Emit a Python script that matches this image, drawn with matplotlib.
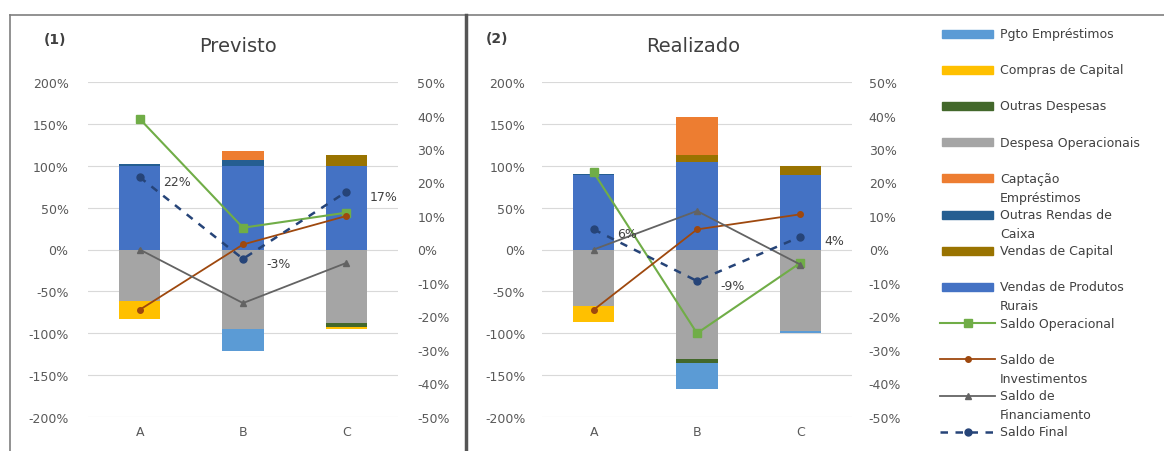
import matplotlib
matplotlib.use("Agg")

import matplotlib.pyplot as plt
import numpy as np
from matplotlib.lines import Line2D
from matplotlib.patches import Rectangle
from matplotlib.ticker import FuncFormatter

plt.rcParams["font.family"] = ["DejaVu Sans"]
plt.rcParams["axes.unicode_minus"] = False

categories = ["A", "B", "C"]

# stacked bars, % (left axis)
prev_vendas_produtos = [100, 100, 100]
prev_vendas_capital = [0, 0, 13]
prev_outras_rendas = [2, 7, 0]
prev_captacao = [0, 11, 0]
prev_despesa_oper = [-62, -95, -88]
prev_outras_despesas = [0, 0, -4]
prev_compras_capital = [-21, 0, -3]
prev_pgto_emprest = [0, -26, 0]

real_vendas_produtos = [89, 105, 89.5]
real_vendas_capital = [0, 8, 10]
real_outras_rendas = [1, 0, 0]
real_captacao = [0, 45, 0]
real_despesa_oper = [-67, -131, -97.5]
real_outras_despesas = [0, -4, 0]
real_compras_capital = [-20, 0, 0]
real_pgto_emprest = [0, -32, -2]

# balance lines, % (right axis)
prev_saldo_oper = [39, 6.5, 11]
prev_saldo_invest = [-18, 1.5, 10]
prev_saldo_financ = [0, -16, -4]
prev_saldo_final = [21.6, -2.8, 17.2]

real_saldo_oper = [23, -25, -4]
real_saldo_invest = [-18, 6, 10.5]
real_saldo_financ = [0, 11.5, -4.5]
real_saldo_final = [6, -9.4, 3.8]

# series order as in the workbook (legend shows it reversed)
bar_colors = ["#4472C4", "#997300", "#255E91", "#ED7D31",
              "#A5A5A5", "#43682B", "#FFC000", "#5B9BD5"]

line_styles = [
    dict(color="#70AD47", marker="s", ms=6, lw=1.5, ls="-"),
    dict(color="#9E480E", marker="o", ms=4, lw=1.3, ls="-"),
    dict(color="#636363", marker="^", ms=5, lw=1.3, ls="-"),
    dict(color="#264478", marker="o", ms=5, lw=1.8, ls=(0, (3, 3))),
]

W, H = 1164, 452
fig = plt.figure(figsize=(W / 100, H / 100), dpi=100)


def fx(px):
    return px / W


def fy(py):
    return 1 - py / H


def panel(left, right, bars, lines, pad_l, pad_r):
    ax = fig.add_axes([fx(left), fy(418), fx(right - left), fy(83) - fy(418)])
    x = np.arange(len(categories))
    pos = np.zeros(len(categories))
    neg = np.zeros(len(categories))
    for vals, c in zip(bars, bar_colors):
        v = np.array(vals, dtype=float) / 100
        bottom = np.where(v >= 0, pos, neg)
        ax.bar(x, v, 0.4, bottom=bottom, color=c, zorder=2)
        pos = pos + np.where(v >= 0, v, 0)
        neg = neg + np.where(v < 0, v, 0)
    ax.set_xlim(-0.5, len(categories) - 0.5)
    ax.set_ylim(-2, 2)
    ax.set_yticks(np.arange(-2, 2.01, 0.5))
    ax.yaxis.set_major_formatter(FuncFormatter(lambda v, _: f"{v * 100:.0f}%"))
    ax.set_xticks(x)
    ax.set_xticklabels(categories)
    ax.grid(axis="y", color="#d9d9d9", lw=0.8, zorder=0)
    ax.tick_params(length=0, colors="#595959", labelsize=9)
    ax.tick_params(axis="y", pad=pad_l)
    ax.tick_params(axis="x", pad=6)
    for s in ax.spines.values():
        s.set_visible(False)

    ax2 = ax.twinx()
    for vals, st in zip(lines, line_styles):
        ax2.plot(x, np.array(vals) / 100, zorder=3, **st)
    final = lines[-1]
    for xi, v in zip(x, final):
        ax2.annotate(f"{v:.0f}%", (xi, v / 100), xytext=(17, -3), textcoords="offset points",
                     color="#404040", fontsize=9, va="center")
    ax2.set_ylim(-0.5, 0.5)
    ax2.set_yticks(np.arange(-0.5, 0.501, 0.1))
    ax2.yaxis.set_major_formatter(FuncFormatter(lambda v, _: f"{round(v * 100):.0f}%"))
    ax2.tick_params(length=0, colors="#595959", labelsize=9, pad=pad_r)
    for s in ax2.spines.values():
        s.set_visible(False)
    return ax


panel(88, 398,
      [prev_vendas_produtos, prev_vendas_capital, prev_outras_rendas, prev_captacao,
       prev_despesa_oper, prev_outras_despesas, prev_compras_capital, prev_pgto_emprest],
      [prev_saldo_oper, prev_saldo_invest, prev_saldo_financ, prev_saldo_final], 14, 14)
panel(542, 852,
      [real_vendas_produtos, real_vendas_capital, real_outras_rendas, real_captacao,
       real_despesa_oper, real_outras_despesas, real_compras_capital, real_pgto_emprest],
      [real_saldo_oper, real_saldo_invest, real_saldo_financ, real_saldo_final], 12, 12)

fig.text(fx(238), fy(47), "Previsto", fontsize=14, color="#404040", ha="center", va="center")
fig.text(fx(55), fy(40), "(1)", fontsize=10, fontweight="bold", color="#404040", ha="center", va="center")
fig.text(fx(693), fy(47), "Realizado", fontsize=14, color="#404040", ha="center", va="center")
fig.text(fx(497), fy(39), "(2)", fontsize=10, fontweight="bold", color="#404040", ha="center", va="center")

# frames around the two charts
fig.add_artist(Line2D([fx(10), fx(1164)], [fy(16), fy(16)], color="#7f7f7f", lw=1.2))
fig.add_artist(Line2D([fx(10), fx(10)], [fy(16), 0], color="#7f7f7f", lw=1.2))
fig.add_artist(Line2D([fx(466), fx(466)], [fy(16), 0], color="#555555", lw=2.5))

# legend, drawn by hand to keep Excel's wrapped labels
lg = fig.add_axes([fx(938), 0, fx(226), 1])
lg.set_xlim(938, 1164)
lg.set_ylim(H, 0)
lg.axis("off")
legend_labels = [
    ["Pgto Empréstimos"], ["Compras de Capital"], ["Outras Despesas"],
    ["Despesa Operacionais"], ["Captação", "Empréstimos"], ["Outras Rendas de", "Caixa"],
    ["Vendas de Capital"], ["Vendas de Produtos", "Rurais"], ["Saldo Operacional"],
    ["Saldo de", "Investimentos"], ["Saldo de", "Financiamento"], ["Saldo Final"],
]
legend_bar_colors = bar_colors[::-1]
for i, lines_txt in enumerate(legend_labels):
    yy = 34.5 + 36.2 * i
    if i < len(legend_bar_colors):
        lg.add_patch(Rectangle((942, yy - 4), 51, 8, color=legend_bar_colors[i]))
    else:
        st = line_styles[i - len(legend_bar_colors)]
        lg.plot([940, 995], [yy, yy], **{k: v for k, v in st.items() if k != "marker"})
        lg.plot([967.5], [yy], marker=st["marker"], color=st["color"], ms=st["ms"])
    for j, t in enumerate(lines_txt):
        lg.text(1000, yy + 19 * j, t, fontsize=9, color="#404040", va="center", ha="left")

fig.savefig("out.png", dpi=100)
